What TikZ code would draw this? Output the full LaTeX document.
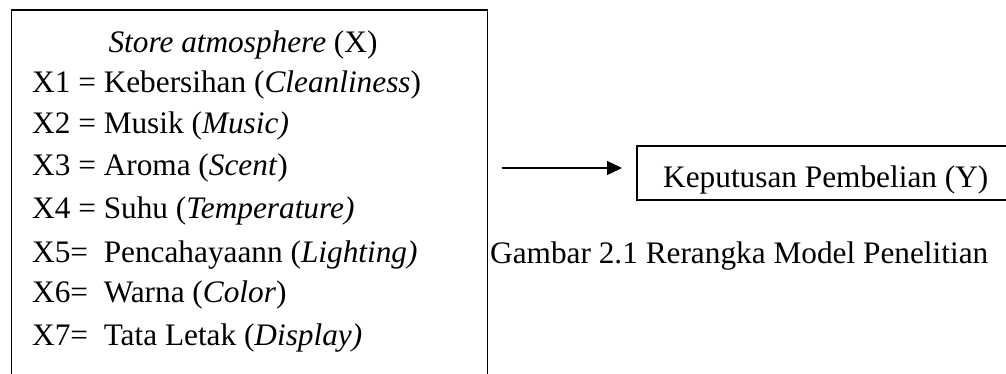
\documentclass[tikz,border=0pt]{standalone}
\usepackage{fontspec}
\setmainfont{Liberation Serif}
\usetikzlibrary{arrows.meta}
\begin{document}
\begin{tikzpicture}[x=1pt,y=-1pt,
  frame/.style={draw, line width=1.8pt, outer sep=0pt, inner sep=0pt, anchor=north west},
  txt/.style={anchor=base west, inner sep=0pt, font=\fontsize{31.3}{40}\selectfont},
  arr/.style={line width=1.4pt, -{Triangle[length=15pt,width=14pt]}}]
\clip (0,0) rectangle (1006,373);
\node[frame, minimum width=476pt, minimum height=420pt] (leftbox) at (11.5,10) {};
\node[frame, minimum width=420pt, minimum height=54pt] (yb) at (637,146) {};
\node[txt, anchor=base] (h) at (243,52) {\textit{Store atmosphere} (X)};
\node[txt] (x1) at (32,92) {X1 = Kebersihan (\textit{Cleanliness})};
\node[txt] (x2) at (32,133) {X2 = Musik (\textit{Music)}};
\node[txt] (x3) at (32,175) {X3 = Aroma (\textit{Scent})};
\node[txt] (x4) at (32,218) {X4 = Suhu (\textit{Temperature)}};
\node[txt] (x5) at (32,262) {X5=\ \ Pencahayaann (\textit{Lighting)}};
\node[txt] (x6) at (32,302) {X6=\ \ Warna (\textit{Color})};
\node[txt] (x7) at (32,345) {X7=\ \ Tata Letak (\textit{Display)}};
\node[txt] (ylab) at (663,187) {Keputusan Pembelian (Y)};
\node[txt] (cap) at (490,263) {Gambar 2.1 Rerangka Model Penelitian};
\draw[arr, shorten <=14pt, shorten >=15pt] ([yshift=5pt]leftbox.east |- yb.west) -- ([yshift=5pt]yb.west);
\end{tikzpicture}
\end{document}
